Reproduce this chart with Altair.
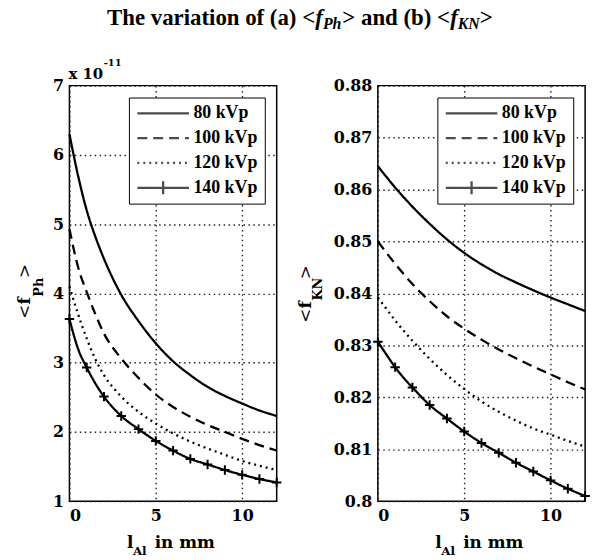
import altair as alt
import pandas as pd

series_names = ["80 kVp", "100 kVp", "120 kVp", "140 kVp"]
x_mm = [0, 0.5, 1, 1.5, 2, 3, 4, 5, 6, 7, 8, 9, 10, 11, 12]
marker_x = [0, 1, 2, 3, 4, 5, 6, 7, 8, 9, 10, 11, 12]

# (a) <f_Ph>, in units of 1e-11
fph_80 = [6.30, 5.70, 5.20, 4.82, 4.50, 3.98, 3.60, 3.28, 3.02, 2.82, 2.65, 2.52, 2.41, 2.31, 2.23]
fph_100 = [4.93, 4.38, 4.02, 3.70, 3.42, 3.06, 2.78, 2.54, 2.36, 2.22, 2.10, 2.00, 1.90, 1.81, 1.73]
fph_120 = [4.10, 3.70, 3.35, 3.05, 2.82, 2.51, 2.29, 2.12, 1.98, 1.86, 1.76, 1.67, 1.58, 1.51, 1.45]
fph_140 = [3.63, 3.20, 2.93, 2.70, 2.51, 2.23, 2.04, 1.87, 1.73, 1.61, 1.53, 1.45, 1.38, 1.32, 1.27]

# (b) <f_KN>
fkn_80 = [0.8645, 0.8624, 0.8604, 0.8585, 0.8567, 0.8534, 0.8504, 0.8478, 0.8456, 0.8437, 0.8421, 0.8406, 0.8392, 0.8379, 0.8366]
fkn_100 = [0.8500, 0.8478, 0.8457, 0.8437, 0.8418, 0.8385, 0.8356, 0.8332, 0.8311, 0.8292, 0.8275, 0.8259, 0.8244, 0.8229, 0.8215]
fkn_120 = [0.8392, 0.8370, 0.8348, 0.8328, 0.8309, 0.8274, 0.8243, 0.8216, 0.8192, 0.8172, 0.8155, 0.8140, 0.8128, 0.8116, 0.8105]
fkn_140 = [0.8307, 0.8282, 0.8258, 0.8237, 0.8219, 0.8185, 0.8159, 0.8134, 0.8112, 0.8093, 0.8074, 0.8057, 0.8040, 0.8024, 0.8010]

x_ticks = [0, 5, 10]
fph_ticks = [1, 2, 3, 4, 5, 6, 7]
fkn_ticks = [0.80, 0.81, 0.82, 0.83, 0.84, 0.85, 0.86, 0.87, 0.88]


def long_df(cols):
    rows = []
    for name, vals in zip(series_names, cols):
        for xv, yv in zip(x_mm, vals):
            rows.append({"x": xv, "v": yv, "series": name})
    return pd.DataFrame(rows)


df_ph = long_df([fph_80, fph_100, fph_120, fph_140])
df_kn = long_df([fkn_80, fkn_100, fkn_120, fkn_140])

dash_range = [[1, 0], [10, 6], [2, 4], [1, 0]]
legend_paths = ["M-1,0L1,0", "M-1,0L1,0", "M-1,0L1,0", "M-1,0L1,0M0,-0.25L0,0.25"]
plus_path = "M-1,0L1,0M0,-1L0,1"

SERIF_T = "Liberation Serif"
SERIF_D = "DejaVu Serif"


def txt(s, x, y, font, size, weight="bold", style="normal", angle=0):
    return alt.Chart(pd.DataFrame({"label": [s]})).mark_text(
        font=font, fontSize=size, fontWeight=weight, fontStyle=style,
        align="left", baseline="alphabetic", angle=angle, color="black"
    ).encode(x=alt.value(x), y=alt.value(y), text="label:N")


def ytitle(main_x, sub_x, y0, sub):
    # rotated "<f_sub>" reading upward
    w_lt = 0.838 * 17
    w_f = 0.47 * 17
    w_sub = {"Ph": 1.445 * 13, "KN": 1.647 * 13}[sub]
    y1 = y0 - w_lt
    y2 = y1 - w_f
    y3 = y2 - w_sub
    return [
        txt("<", main_x, y0, SERIF_D, 17, weight="normal", angle=270),
        txt("f", main_x, y1, SERIF_D, 17, angle=270),
        txt(sub, sub_x, y2, SERIF_D, 13, angle=270),
        txt(">", main_x, y3, SERIF_D, 17, weight="normal", angle=270),
    ]


def xtitle():
    return [
        txt("l", 58, 466, SERIF_D, 17),
        txt("Al", 64, 473, SERIF_D, 12),
        txt("in mm", 86, 466, SERIF_D, 17),
    ]


def panel(df, ydom, yticks, yfmt, extra):
    base = alt.Chart(df)
    xenc = alt.X("x:Q", scale=alt.Scale(domain=[0, 12], nice=False, zero=False),
                 axis=alt.Axis(values=x_ticks, title=None, labelPadding=7, format="d"))
    yenc = alt.Y("v:Q", scale=alt.Scale(domain=ydom, nice=False, zero=False),
                 axis=alt.Axis(values=yticks, title=None, labelPadding=6, format=yfmt))
    lines = base.mark_line(color="black", strokeWidth=2.3, interpolate="monotone").encode(
        x=xenc, y=yenc,
        strokeDash=alt.StrokeDash("series:N", scale=alt.Scale(domain=series_names, range=dash_range),
                                  legend=alt.Legend(title=None)),
    )
    leg = base.transform_filter("false").mark_point(color="black", filled=False, strokeWidth=2.3).encode(
        x=xenc, y=yenc,
        shape=alt.Shape("series:N", scale=alt.Scale(domain=series_names, range=legend_paths),
                        legend=alt.Legend(title=None)),
    )
    marks = base.transform_filter(
        alt.FieldOneOfPredicate(field="x", oneOf=marker_x)
    ).transform_filter(
        alt.FieldEqualPredicate(field="series", equal="140 kVp")
    ).mark_point(shape=plus_path, size=90, color="black", strokeWidth=2, filled=False, opacity=1).encode(
        x=xenc, y=yenc)
    return alt.layer(lines, leg, marks, *extra).properties(width=209, height=419)


# title pieces (Times-bold metrics, 23 px)
TY = -61
title_layers = [
    txt("The variation of (a) <", 38, TY, SERIF_T, 23),
    txt("f", 247.9, TY, SERIF_T, 23, style="italic"),
    txt("Ph", 255.6, TY + 4, SERIF_T, 16, style="italic"),
    txt("> and (b) <", 275.2, TY, SERIF_T, 23),
    txt("f", 383.9, TY, SERIF_T, 23, style="italic"),
    txt("KN", 391.6, TY + 4, SERIF_T, 16, style="italic"),
    txt(">", 413.8, TY, SERIF_T, 23),
]

exponent = [txt("x 10", -1, -7, SERIF_D, 15), txt("-11", 34.5, -20, SERIF_D, 10)]

left_extra = title_layers + exponent + ytitle(-40, -27, 235, "Ph") + xtitle()
right_extra = ytitle(-67, -56, 239, "KN") + xtitle()

left = panel(df_ph, [1, 7], fph_ticks, "d", left_extra)
right = panel(df_kn, [0.80, 0.88], fkn_ticks, ".2~f", right_extra)

chart = alt.hconcat(left, right, spacing=102, bounds="flush").resolve_scale(
    y="independent", strokeDash="independent", shape="independent"
).resolve_legend(
    strokeDash="independent", shape="independent"
).properties(
    padding={"left": 15, "top": 4, "right": 5, "bottom": 0},
    background="white",
).configure_view(
    stroke="black", strokeWidth=1.5
).configure_axis(
    labelFont=SERIF_D, labelFontWeight="bold", labelFontSize=16, labelColor="black",
    ticks=False, domain=False, grid=True, gridColor="#222222", gridDash=[1.5, 3.5],
    gridWidth=1.4, gridOpacity=1
).configure_legend(
    orient="top-right", offset=12, padding=7, strokeColor="black", fillColor="white",
    labelFont=SERIF_T, labelFontSize=18, labelFontWeight="bold", labelColor="black",
    symbolSize=2704, symbolStrokeWidth=2.3, symbolStrokeColor="black",
    symbolFillColor="transparent", rowPadding=7, labelOffset=3, cornerRadius=0,
    symbolType="stroke", clipHeight=18
)

chart.save("out.html", embed_options={"renderer": "svg", "actions": False})
